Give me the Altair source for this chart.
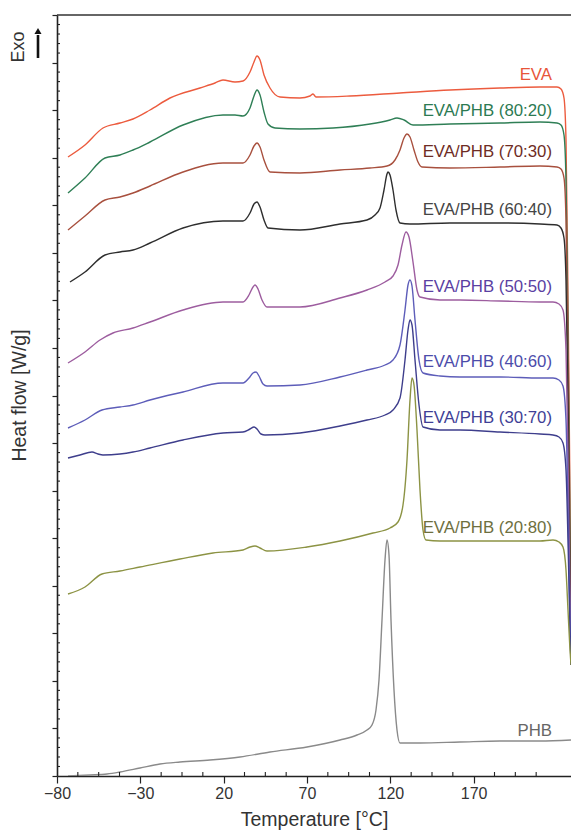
import altair as alt
import pandas as pd

# ---- DSC heating curves (temperature in °C, heat flow in arbitrary offset units) ----
SERIES = [
    "EVA", "EVA/PHB (80:20)", "EVA/PHB (70:30)", "EVA/PHB (60:40)",
    "EVA/PHB (50:50)", "EVA/PHB (40:60)", "EVA/PHB (30:70)", "EVA/PHB (20:80)", "PHB",
]

eva_t = [-73.4, -63.2, -52.4, -42.2, -34.4, -24.2, -12.2, 5.8, 14.8, 19.6, 26.8, 31.6, 35.8, 38.2, 40.0,
         41.8, 44.2, 47.8, 53.8, 65.8, 71.8, 73.6, 75.4, 95.8, 125.8, 155.8, 185.8, 209.8, 220.0, 222.4,
         224.2, 225.4, 226.6, 227.8, 228.4]
eva_q = [619, 631, 648, 653, 657, 666, 678, 688, 693, 696, 694, 695, 704, 714, 720,
         716, 701, 688, 679, 678, 680, 682, 679, 680, 683, 686, 688, 689, 689, 687,
         678, 636, 476, 276, 111]

b80_t = [-73.4, -63.2, -51.2, -42.2, -34.4, -24.2, -4.4, 19.6, 26.8, 31.6, 35.8, 38.2, 40.0, 41.8, 44.2,
         46.6, 50.8, 65.8, 85.6, 107.8, 119.8, 124.0, 128.2, 133.6, 155.8, 185.8, 209.8, 220.0, 222.4,
         224.2, 225.4, 226.6, 227.8, 228.4]
b80_q = [583, 598, 618, 621, 626, 634, 651, 661, 661, 660, 668, 680, 686, 681, 664,
         652, 648, 647, 648, 652, 656, 658, 656, 651, 652, 653, 654, 653, 651,
         641, 596, 446, 246, 111]

b70_t = [-73.4, -63.2, -51.2, -42.2, -34.4, -24.2, -4.4, 19.6, 26.8, 31.6, 35.8, 38.2, 40.0, 41.8, 44.2,
         47.8, 65.8, 89.8, 107.8, 118.0, 122.8, 125.8, 128.2, 130.0, 131.8, 134.2, 136.6, 139.0, 155.8,
         185.8, 209.8, 220.0, 222.4, 224.2, 225.4, 226.6, 227.8, 228.4]
b70_q = [546, 560, 576, 579, 583, 590, 604, 613, 613, 613, 621, 630, 633, 629, 616,
         604, 603, 606, 608, 610, 616, 626, 638, 642, 639, 626, 614, 609, 608,
         609, 610, 609, 607, 598, 556, 416, 216, 111]

b60_t = [-72.2, -63.2, -51.2, -42.2, -34.4, -24.2, -4.4, 19.6, 26.8, 31.6, 35.8, 38.2, 40.0, 41.8, 44.2,
         46.6, 65.8, 89.8, 106.0, 110.8, 113.8, 116.2, 118.0, 118.6, 119.8, 121.6, 123.4, 125.8, 131.8,
         155.8, 185.8, 209.8, 220.0, 222.4, 224.2, 225.4, 226.6, 227.8, 228.4]
b60_q = [494, 504, 521, 524, 526, 533, 548, 555, 555, 555, 563, 572, 574, 569, 556,
         548, 546, 552, 556, 561, 568, 586, 602, 604, 601, 586, 566, 553, 552,
         553, 553, 552, 551, 548, 538, 496, 376, 196, 111]

b50_t = [-73.4, -63.2, -54.2, -46.4, -34.4, -24.2, -4.4, 19.6, 26.8, 31.6, 35.2, 37.6, 38.8, 40.6, 43.0,
         46.0, 65.8, 89.8, 106.0, 116.8, 121.6, 124.6, 127.0, 129.4, 131.2, 133.6, 136.0, 137.8, 149.8,
         161.8, 185.8, 209.8, 217.6, 221.2, 223.6, 225.4, 226.6, 227.8, 228.4]
b50_q = [413, 424, 436, 443, 448, 454, 466, 474, 474, 474, 481, 489, 491, 487, 476,
         469, 469, 478, 486, 494, 500, 511, 531, 544, 539, 514, 486, 479, 476,
         476, 475, 474, 474, 472, 466, 426, 316, 176, 111]

b40_t = [-73.4, -63.2, -53.0, -42.2, -34.4, -24.2, -4.4, 19.6, 26.8, 31.6, 35.2, 37.6, 39.4, 41.2, 43.6,
         46.0, 65.8, 89.8, 106.0, 116.8, 121.6, 125.8, 128.8, 130.6, 131.8, 133.0, 134.8, 137.2, 139.6,
         149.8, 161.8, 185.8, 209.8, 217.6, 221.2, 223.6, 225.4, 226.6, 227.8, 228.4]
b40_q = [348, 356, 366, 369, 371, 376, 384, 393, 393, 393, 398, 403, 404, 400, 392,
         390, 391, 399, 406, 411, 416, 431, 466, 491, 496, 490, 456, 416, 403,
         400, 399, 399, 398, 398, 396, 390, 356, 266, 156, 111]

b30_t = [-73.4, -66.2, -59.0, -55.4, -52.4, -42.2, -34.4, -24.2, -4.4, 19.6, 31.6, 35.8, 38.2, 40.0, 42.4,
         44.8, 65.8, 89.8, 106.0, 116.8, 121.6, 125.8, 128.8, 130.6, 131.8, 133.0, 134.8, 137.2, 139.6,
         149.8, 161.8, 185.8, 209.8, 217.6, 221.2, 223.6, 225.4, 226.6, 227.8, 228.4]
b30_q = [318, 321, 324, 322, 321, 322, 324, 328, 336, 343, 344, 347, 349, 347, 342,
         341, 343, 350, 356, 361, 366, 378, 416, 446, 456, 451, 416, 371, 349,
         346, 346, 344, 342, 341, 339, 333, 306, 236, 146, 111]

b20_t = [-73.4, -63.2, -53.0, -42.2, -30.2, -6.2, 13.6, 31.6, 35.8, 38.8, 41.8, 46.0, 70.0, 89.8, 109.6,
         119.8, 124.6, 127.6, 130.0, 131.8, 133.0, 134.2, 136.0, 137.8, 139.6, 141.4, 149.8, 161.8, 185.8,
         209.8, 217.6, 221.2, 223.6, 225.4, 226.6, 227.8, 228.4]
b20_q = [182, 189, 202, 205, 209, 217, 223, 226, 229, 230, 228, 225, 229, 235, 243,
         248, 254, 271, 316, 376, 398, 391, 346, 286, 246, 236, 235, 235, 235,
         235, 236, 234, 229, 206, 166, 126, 111]

phb_t = [-73.4, -60.2, -50.0, -42.2, -30.2, -18.2, -6.2, 11.8, 29.8, 47.8, 70.0, 89.8, 100.0, 106.0, 109.0,
         111.4, 113.2, 115.0, 116.8, 118.0, 119.2, 120.4, 122.2, 124.0, 125.8, 137.8, 161.8, 185.8, 209.8,
         228.4]
phb_q = [0, 1, 2, 4, 8, 12, 14, 16, 19, 24, 29, 36, 41, 46, 51,
         66, 96, 156, 216, 236, 221, 156, 86, 46, 33, 33, 34, 35, 35,
         36]

CURVES_T = [eva_t, b80_t, b70_t, b60_t, b50_t, b40_t, b30_t, b20_t, phb_t]
CURVES_Q = [eva_q, b80_q, b70_q, b60_q, b50_q, b40_q, b30_q, b20_q, phb_q]

# curve labels: right edge temperature and vertical position of each name
LABEL_T = [217.0] * 9
LABEL_Q = [701, 665, 624, 566, 489, 414, 358, 248, 45]

# axis ticks
X_MAJOR = [-80, -30, 20, 70, 120, 170]
X_MINOR = [-80 + 12.5 * i for i in range(1, 24) if i % 4 != 0]
Y_TOP = 761
Y_MAJOR = [Y_TOP * i / 16 for i in range(17)]
Y_MINOR = [Y_TOP * i / 80 for i in range(81) if i % 5 != 0]

CURVE_COLORS = ["#ec5b3e", "#2f7f56", "#a8503e", "#2e2e2e", "#9d5d9f",
                "#5d5db9", "#3e3e8c", "#8c9344", "#8a8a8a"]
LABEL_COLORS = ["#e8553a", "#2c7a52", "#6e2c24", "#454545", "#5a40a2",
                "#4c4caa", "#3f3f96", "#6e6f3e", "#666666"]

FONT = "Liberation Sans"
W, H = 514, 761
X_TITLE = "Temperature [°C]"
Y_TITLE = "Heat flow [W/g]"

rows = []
for name, ts, qs in zip(SERIES, CURVES_T, CURVES_Q):
    for t, q in zip(ts, qs):
        rows.append({"series": name, "temp": t, "flow": q})
curves = pd.DataFrame(rows)

labels = pd.DataFrame({"series": SERIES, "temp": LABEL_T, "flow": LABEL_Q, "c": LABEL_COLORS})

x_scale = alt.Scale(domain=[-80, 228.4], nice=False, zero=False)
y_scale = alt.Scale(domain=[0, Y_TOP], nice=False, zero=False)

x_axis = alt.Axis(values=X_MAJOR, format="d", tickSize=7, tickWidth=1.2, tickColor="#222",
                  domainColor="#222", domainWidth=1.6, grid=False, labelFlush=False,
                  labelFont=FONT, labelFontSize=16, labelColor="#333", labelPadding=2,
                  titleFont=FONT, titleFontSize=19.5, titleFontWeight="normal",
                  titleColor="#333", titleX=W / 2, titleY=43, titleBaseline="middle")
y_axis = alt.Axis(values=Y_MAJOR, labels=False, tickSize=5, tickWidth=1.2, tickColor="#222",
                  domainColor="#222", domainWidth=1.6, grid=False,
                  titleFont=FONT, titleFontSize=19.5, titleFontWeight="normal",
                  titleColor="#333", titleX=-38, titleY=380, titleAlign="center",
                  titleBaseline="middle", titleAngle=270)


def xenc(field="temp"):
    return alt.X(f"{field}:Q", scale=x_scale, title=X_TITLE, axis=x_axis)


def yenc(field="flow"):
    return alt.Y(f"{field}:Q", scale=y_scale, title=Y_TITLE, axis=y_axis)


lines = alt.Chart(curves).mark_line(strokeWidth=1.4, interpolate="monotone", clip=True).encode(
    x=xenc(), y=yenc(),
    color=alt.Color("series:N", scale=alt.Scale(domain=SERIES, range=CURVE_COLORS), legend=None),
)

names = alt.Chart(labels).mark_text(align="right", baseline="middle", font=FONT, fontSize=16.8).encode(
    x=xenc(), y=yenc(),
    text="series:N",
    color=alt.Color("c:N", scale=None, legend=None),
)

# inward minor ticks on both axes
x_minor = alt.Chart(pd.DataFrame({"temp": X_MINOR})).mark_rule(color="#222", strokeWidth=1.1).encode(
    x=xenc(), y=alt.value(H), y2=alt.value(H - 4))
y_minor = alt.Chart(pd.DataFrame({"flow": Y_MINOR})).mark_rule(color="#222", strokeWidth=1.1).encode(
    y=yenc(), x=alt.value(0), x2=alt.value(3))

one = pd.DataFrame({"k": [0]})
top_frame = alt.Chart(one).mark_rule(color="#333", strokeWidth=1.6).encode(
    x=alt.value(0), x2=alt.value(W), y=alt.value(0))
exo_text = alt.Chart(one).mark_text(font=FONT, fontSize=18, angle=270, color="#333",
                                    align="center", baseline="middle").encode(
    x=alt.value(-38), y=alt.value(32), text=alt.value("Exo"))
exo_shaft = alt.Chart(one).mark_rule(color="#111", strokeWidth=2.6).encode(
    x=alt.value(-19), y=alt.value(20), y2=alt.value(43))
exo_head = alt.Chart(one).mark_point(shape="triangle-up", filled=True, size=50, color="#111",
                                     opacity=1).encode(x=alt.value(-19), y=alt.value(16))

chart = alt.layer(lines, names, x_minor, y_minor, top_frame, exo_text, exo_shaft, exo_head).resolve_scale(
    color="independent"
).properties(
    width=W, height=H,
    padding={"left": 57, "top": 15, "right": 0, "bottom": 54},
    autosize=alt.AutoSizeParams(type="none"),
    background="white",
).configure_view(stroke=None)

chart.save("out.html", embed_options={"renderer": "svg", "actions": False})
